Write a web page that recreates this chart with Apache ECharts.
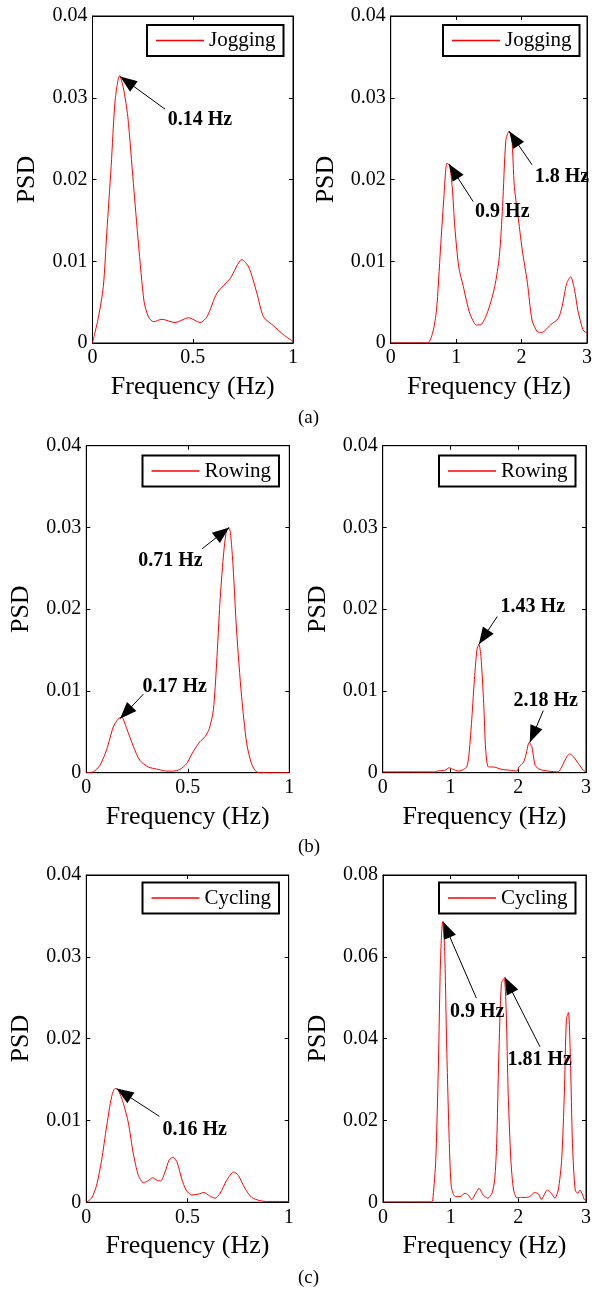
<!DOCTYPE html>
<html lang="en">
<head>
    <meta charset="UTF-8">
    <title>PSD</title>
    <script src="https://cdn.jsdelivr.net/npm/echarts@6/dist/echarts.min.js"></script>
    <style>
        body, html {
            margin: 0;
            padding: 0;
            background: #fff;
        }

        #main {
            width: 595px;
            height: 1289px;
        }
    </style>
</head>
<body>
<div id="main"></div>
<script>
    // (a) jogging, 0-1 Hz
    const jogLowFreq = [0, 0.03, 0.054, 0.071, 0.093, 0.113, 0.135, 0.154, 0.176, 0.204, 0.229, 0.257, 0.279, 0.304, 0.346, 0.412, 0.479, 0.537, 0.571, 0.621, 0.687, 0.745, 0.779, 0.820, 0.853, 0.903, 0.953, 1.0];
    const jogLowPsd = [0, 0.0032, 0.0069, 0.0134, 0.0216, 0.0297, 0.0327, 0.0312, 0.0277, 0.0195, 0.0122, 0.0051, 0.0032, 0.0026, 0.0029, 0.0025, 0.0031, 0.0025, 0.0032, 0.0061, 0.0079, 0.0102, 0.0093, 0.0061, 0.0032, 0.0021, 0.0010, 0.0002];
    // (a) jogging, 0-3 Hz
    const jogHighFreq = [0, 0.56, 0.64, 0.70, 0.76, 0.81, 0.86, 0.90, 0.94, 0.98, 1.04, 1.11, 1.16, 1.21, 1.31, 1.39, 1.49, 1.59, 1.66, 1.71, 1.76, 1.81, 1.85, 1.89, 1.96, 2.01, 2.09, 2.16, 2.24, 2.31, 2.44, 2.56, 2.62, 2.69, 2.75, 2.81, 2.86, 2.94, 3.0];
    const jogHighPsd = [0, 0, 0.0012, 0.004, 0.0114, 0.0175, 0.022, 0.0217, 0.0191, 0.0142, 0.0093, 0.0069, 0.0051, 0.0036, 0.0022, 0.0023, 0.0040, 0.0069, 0.0106, 0.0167, 0.0248, 0.0259, 0.0252, 0.0191, 0.0146, 0.0114, 0.0073, 0.0028, 0.0014, 0.0013, 0.0022, 0.0030, 0.0045, 0.0073, 0.0081, 0.0065, 0.0040, 0.0016, 0.0012];
    // (b) rowing, 0-1 Hz
    const rowLowFreq = [0, 0.034, 0.067, 0.10, 0.133, 0.158, 0.174, 0.199, 0.232, 0.264, 0.305, 0.346, 0.396, 0.429, 0.461, 0.494, 0.527, 0.56, 0.585, 0.606, 0.626, 0.642, 0.658, 0.675, 0.691, 0.704, 0.72, 0.74, 0.765, 0.79, 0.814, 0.839, 0.87, 1.0];
    const rowLowPsd = [0, 0.0001, 0.0009, 0.0028, 0.0056, 0.0066, 0.0068, 0.0054, 0.0032, 0.0015, 0.0007, 0.00045, 0.0002, 0.0002, 0.0004, 0.0011, 0.0026, 0.0038, 0.0044, 0.0054, 0.0077, 0.0134, 0.0207, 0.0264, 0.0297, 0.0299, 0.0264, 0.0175, 0.0093, 0.0036, 0.0011, 0.0001, 0, 0];
    // (b) rowing, 0-3 Hz
    const rowHighFreq = [0, 0.79, 0.80, 0.92, 0.98, 1.04, 1.12, 1.19, 1.24, 1.27, 1.31, 1.35, 1.39, 1.42, 1.45, 1.49, 1.52, 1.56, 1.63, 1.76, 1.88, 1.98, 2.01, 2.08, 2.12, 2.16, 2.20, 2.25, 2.32, 2.44, 2.59, 2.64, 2.72, 2.76, 2.81, 2.89, 2.96, 3.0];
    const rowHighPsd = [0.0001, 0.0001, 0.0002, 0.0003, 0.0006, 0.0004, 0.0002, 0.0004, 0.0007, 0.002, 0.006, 0.011, 0.015, 0.0157, 0.0142, 0.0085, 0.0028, 0.0007, 0.0007, 0.0004, 0.0003, 0.0002, 0.0007, 0.0013, 0.0024, 0.0037, 0.0032, 0.0009, 0.0004, 0.0002, 0.0001, 0.0007, 0.002, 0.0023, 0.002, 0.0011, 0.0003, 0.0001];
    // (c) cycling, 0-1 Hz
    const cycLowFreq = [0, 0.026, 0.051, 0.076, 0.10, 0.125, 0.142, 0.158, 0.183, 0.208, 0.232, 0.257, 0.282, 0.303, 0.328, 0.348, 0.367, 0.389, 0.41, 0.43, 0.45, 0.471, 0.493, 0.521, 0.554, 0.582, 0.608, 0.636, 0.661, 0.694, 0.727, 0.751, 0.784, 0.817, 0.858, 0.891, 1.0];
    const cycLowPsd = [0, 0.0005, 0.0021, 0.0052, 0.0092, 0.0129, 0.0139, 0.0137, 0.0121, 0.0097, 0.006, 0.0033, 0.0024, 0.0026, 0.003, 0.0027, 0.0026, 0.0037, 0.0052, 0.0055, 0.0048, 0.0029, 0.0015, 0.0009, 0.001, 0.0012, 0.0008, 0.0005, 0.0011, 0.0027, 0.0037, 0.0033, 0.0017, 0.0006, 0.0002, 0.0001, 0.0001];
    // (c) cycling, 0-3 Hz
    const cycHighFreq = [0, 0.72, 0.74, 0.78, 0.82, 0.85, 0.88, 0.91, 0.94, 0.98, 1.01, 1.06, 1.14, 1.21, 1.26, 1.31, 1.37, 1.42, 1.48, 1.55, 1.61, 1.65, 1.68, 1.71, 1.75, 1.79, 1.82, 1.85, 1.89, 1.93, 1.98, 2.05, 2.12, 2.17, 2.24, 2.30, 2.34, 2.43, 2.49, 2.54, 2.59, 2.64, 2.68, 2.71, 2.74, 2.77, 2.80, 2.84, 2.88, 2.91, 2.95, 2.98, 3.0];
    const cycHighPsd = [0.0001, 0.0001, 0.0014, 0.0103, 0.0348, 0.0592, 0.0686, 0.0625, 0.0389, 0.0144, 0.0038, 0.0015, 0.0014, 0.0022, 0.0018, 0.0007, 0.0022, 0.0034, 0.0018, 0.001, 0.0022, 0.0055, 0.0144, 0.0348, 0.0535, 0.0547, 0.047, 0.0266, 0.0103, 0.003, 0.0011, 0.0012, 0.0012, 0.0014, 0.0024, 0.002, 0.0007, 0.003, 0.0022, 0.001, 0.003, 0.0103, 0.0266, 0.0446, 0.0464, 0.0348, 0.0144, 0.003, 0.0022, 0.003, 0.0018, 0.0006, 0.0006];

    // peak notes: arrow from -> to (data coords), text starts at "at"
    const jogLowNotes = [{text: '0.14 Hz', from: [0.362, 0.0286], to: [0.138, 0.0326], at: [0.375, 0.0273]}];
    const jogHighNotes = [
        {text: '0.9 Hz', from: [1.26, 0.0173], to: [0.89, 0.0219], at: [1.29, 0.016]},
        {text: '1.8 Hz', from: [2.16, 0.0218], to: [1.81, 0.0259], at: [2.2, 0.0203]}
    ];
    const rowLowNotes = [
        {text: '0.71 Hz', from: [0.571, 0.0274], to: [0.704, 0.0300], at: [0.256, 0.0259]},
        {text: '0.17 Hz', from: [0.281, 0.0096], to: [0.166, 0.0066], at: [0.277, 0.0105]}
    ];
    const rowHighNotes = [
        {text: '1.43 Hz', from: [1.69, 0.0191], to: [1.42, 0.0157], at: [1.74, 0.0203]},
        {text: '2.18 Hz', from: [2.37, 0.0076], to: [2.17, 0.0037], at: [1.93, 0.0088]}
    ];
    const cycLowNotes = [{text: '0.16 Hz', from: [0.361, 0.0105], to: [0.15, 0.0139], at: [0.376, 0.0088]}];
    const cycHighNotes = [
        {text: '0.9 Hz', from: [1.38, 0.0499], to: [0.89, 0.0686], at: [0.99, 0.0466]},
        {text: '1.81 Hz', from: [2.32, 0.038], to: [1.80, 0.055], at: [1.84, 0.0348]}
    ];

    const captions = ['(a)', '(b)', '(c)'];

    const serif = '"Liberation Serif", "Times New Roman", serif';

    const panels = [
        {name: 'Jogging', f: jogLowFreq, p: jogLowPsd, xMax: 1, xStep: 0.5, yMax: 0.04, yStep: 0.01, notes: jogLowNotes, box: [92.5, 16, 200.5, 327], leg: [147, 25]},
        {name: 'Jogging', f: jogHighFreq, p: jogHighPsd, xMax: 3, xStep: 1, yMax: 0.04, yStep: 0.01, notes: jogHighNotes, box: [390.7, 16, 200.3, 327], leg: [443, 25]},
        {name: 'Rowing', f: rowLowFreq, p: rowLowPsd, xMax: 1, xStep: 0.5, yMax: 0.04, yStep: 0.01, notes: rowLowNotes, box: [86.3, 445.7, 203, 327], leg: [142.5, 455.5]},
        {name: 'Rowing', f: rowHighFreq, p: rowHighPsd, xMax: 3, xStep: 1, yMax: 0.04, yStep: 0.01, notes: rowHighNotes, box: [382.7, 445.7, 203.3, 327], leg: [439, 455.5]},
        {name: 'Cycling', f: cycLowFreq, p: cycLowPsd, xMax: 1, xStep: 0.5, yMax: 0.04, yStep: 0.01, notes: cycLowNotes, box: [86.3, 875, 202.4, 327.3], leg: [142.5, 882.5]},
        {name: 'Cycling', f: cycHighFreq, p: cycHighPsd, xMax: 3, xStep: 1, yMax: 0.08, yStep: 0.02, notes: cycHighNotes, box: [383, 875, 203, 327.3], leg: [439, 882.5]}
    ];
    const captionTops = [409, 838, 1269];

    const chart = echarts.init(document.getElementById('main'), null, {renderer: 'canvas'});

    const grid = [], xAxis = [], yAxis = [], series = [], legend = [];
    const tick = {show: true, inside: true, length: 4, lineStyle: {color: '#000', width: 1}};
    const line = {show: true, onZero: false, lineStyle: {color: '#000', width: 1}};

    panels.forEach((pn, i) => {
        grid.push({
            left: pn.box[0], top: pn.box[1], width: pn.box[2], height: pn.box[3],
            show: true, borderColor: '#000', borderWidth: 1, backgroundColor: 'transparent'
        });
        // bottom + top x axes
        xAxis.push({
            gridIndex: i, type: 'value', min: 0, max: pn.xMax, interval: pn.xStep,
            axisLine: line, axisTick: tick, splitLine: {show: false},
            axisLabel: {color: '#000', fontFamily: serif, fontSize: 20, margin: 5},
            name: 'Frequency (Hz)', nameLocation: 'middle', nameGap: 31,
            nameTextStyle: {color: '#000', fontFamily: serif, fontSize: 26}
        });
        xAxis.push({
            gridIndex: i, type: 'value', position: 'top', min: 0, max: pn.xMax, interval: pn.xStep,
            axisLine: line, axisTick: tick, splitLine: {show: false}, axisLabel: {show: false}
        });
        // left + right y axes
        yAxis.push({
            gridIndex: i, type: 'value', min: 0, max: pn.yMax, interval: pn.yStep,
            axisLine: line, axisTick: tick, splitLine: {show: false},
            axisLabel: {color: '#000', fontFamily: serif, fontSize: 20, margin: 5},
            name: 'PSD', nameLocation: 'middle', nameGap: 52,
            nameTextStyle: {color: '#000', fontFamily: serif, fontSize: 26}
        });
        yAxis.push({
            gridIndex: i, type: 'value', position: 'right', min: 0, max: pn.yMax, interval: pn.yStep,
            axisLine: line, axisTick: tick, splitLine: {show: false}, axisLabel: {show: false}
        });

        series.push({
            type: 'line',
            name: pn.name,
            xAxisIndex: 2 * i,
            yAxisIndex: 2 * i,
            data: pn.f.map((x, k) => [x, pn.p[k]]),
            showSymbol: false,
            smooth: 0.25,
            lineStyle: {color: '#ff0000', width: 1},
            itemStyle: {color: '#ff0000'},
            markLine: {
                silent: true,
                symbol: ['none', 'triangle'],
                lineStyle: {color: '#000', width: 1, type: 'solid'},
                label: {show: false},
                data: pn.notes.map(n => [
                    {coord: n.from, symbol: 'none'},
                    {coord: n.to, symbol: 'triangle', symbolSize: [13, 17], symbolOffset: [0, '50%'], itemStyle: {color: '#000'}}
                ])
            },
            markPoint: {
                silent: true,
                symbol: 'rect',
                symbolSize: 1,
                itemStyle: {color: 'rgba(0,0,0,0)'},
                label: {
                    show: true, position: 'inside', align: 'left', verticalAlign: 'middle',
                    formatter: p => p.name,
                    fontFamily: serif, fontWeight: 'bold', fontSize: 20, color: '#000'
                },
                data: pn.notes.map(n => ({name: n.text, coord: n.at}))
            }
        });

        legend.push({
            data: [pn.name],
            left: pn.leg[0], top: pn.leg[1],
            orient: 'horizontal',
            selectedMode: false,
            borderColor: '#000', borderWidth: 2,
            padding: [5, 8, 5, 9],
            itemWidth: 48, itemHeight: 1.5, icon: 'rect',
            textStyle: {color: '#000', fontFamily: serif, fontSize: 21}
        });
    });

    const option = {
        animation: false,
        backgroundColor: '#fff',
        title: captions.map((c, i) => ({
            text: c, left: 298, top: captionTops[i], padding: 0,
            textStyle: {color: '#000', fontFamily: serif, fontSize: 19, fontWeight: 'normal'}
        })),
        legend: legend,
        grid: grid,
        xAxis: xAxis,
        yAxis: yAxis,
        series: series
    };

    chart.setOption(option);
</script>
</body>
</html>
